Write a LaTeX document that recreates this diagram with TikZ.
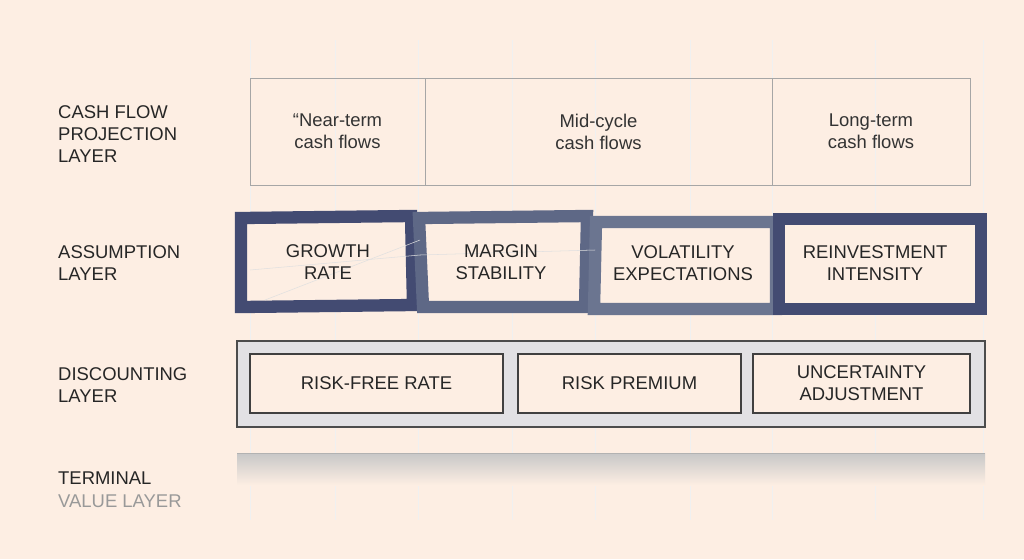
\documentclass[tikz,border=0pt]{standalone}
\usepackage{fontspec}
\setmainfont{Liberation Sans}
\usepackage{xcolor}
\definecolor{paper}{HTML}{FDEEE3}
\definecolor{frameA}{HTML}{434B72}
\definecolor{frameB}{HTML}{5E6886}
\definecolor{frameC}{HTML}{6B7590}
\definecolor{disc}{HTML}{E2E1E4}
\tikzset{
  lbl/.style={anchor=west,align=left,font=\fontsize{10.5}{12.6}\selectfont,text=black!85},
  cell/.style={draw=black!35,line width=0.5pt,align=center,font=\fontsize{10.5}{12.6}\selectfont,text=black!80},
  dcell/.style={draw=black!75,fill=paper,line width=0.7pt,align=center,font=\fontsize{10.5}{12.6}\selectfont,text=black!85},
  frame/.style={line width=7pt,fill=paper,align=center,font=\fontsize{10.5}{12.6}\selectfont,text=black!85}
}
\begin{document}
\begin{tikzpicture}[x=0.02cm,y=-0.02cm]
\useasboundingbox (0,0) rectangle (1024,559);
\fill [paper] (0,0) rectangle (1024,559);
% faint grid
\foreach \gx in {250,335,418,512,595,690,772,875,983}
  \draw [black!6,line width=0.4pt] (\gx,40) -- (\gx,520);

% Cash flow layer
\node [lbl] (lcf) at (52,134) {CASH FLOW\\PROJECTION\\LAYER};
\node [cell,minimum width=175*0.02cm,minimum height=107*0.02cm] (near) at (337.5,131.5) {“Near-term\\cash flows};
\node [cell,minimum width=347*0.02cm,minimum height=107*0.02cm] (mid) at (598.5,131.5) {Mid-cycle\\cash flows};
\node [cell,minimum width=198*0.02cm,minimum height=107*0.02cm] (long) at (871,131.5) {Long-term\\cash flows};

% Assumption layer
\node [lbl] (las) at (52,263) {ASSUMPTION\\LAYER};
\draw [frameA,line width=7pt,fill=paper] (241,218) -- (411,216) -- (413,305) -- (241,307) -- cycle;
\draw [frameB,line width=7pt,fill=paper] (419,218) -- (587,216) -- (585,307) -- (423,307) -- cycle;
\draw [frameC,line width=7pt,fill=paper] (596,222) -- (776,222) -- (776,309) -- (594,309) -- cycle;
\draw [frameA,line width=7pt,fill=paper] (779,219) -- (981,219) -- (981,309) -- (779,309) -- cycle;
\draw [black!12,line width=0.3pt] (250,270) -- (420,255) -- (595,250);
\draw [black!12,line width=0.3pt] (265,300) -- (420,240);
\node [font=\fontsize{10.5}{12.6}\selectfont,align=center,text=black!85] (grow) at (328,262) {GROWTH\\RATE};
\node [font=\fontsize{10.5}{12.6}\selectfont,align=center,text=black!85] (marg) at (501,262) {MARGIN\\STABILITY};
\node [font=\fontsize{10.5}{12.6}\selectfont,align=center,text=black!85] (vola) at (683,263) {VOLATILITY\\EXPECTATIONS};
\node [font=\fontsize{10.5}{12.6}\selectfont,align=center,text=black!85] (rein) at (875,263) {REINVESTMENT\\INTENSITY};

% Discounting layer
\node [lbl] (ldi) at (52,385) {DISCOUNTING\\LAYER};
\node [draw=black!70,fill=disc,line width=0.7pt,minimum width=748*0.02cm,minimum height=86*0.02cm] (dband) at (611,384) {};
\node [dcell,minimum width=253*0.02cm,minimum height=59*0.02cm] (rf) at (376.5,383.5) {RISK-FREE RATE};
\node [dcell,minimum width=223*0.02cm,minimum height=59*0.02cm] (rp) at (629.5,383.5) {RISK PREMIUM};
\node [dcell,minimum width=217*0.02cm,minimum height=59*0.02cm] (ua) at (861.5,383.5) {UNCERTAINTY\\ADJUSTMENT};

% Terminal value layer
\shade [top color=black!22,bottom color=paper] (237,453) rectangle (985,485);
\draw [black!30,line width=0.5pt] (237,453) -- (985,453);
\node [lbl] (lte) at (52,478) {TERMINAL};
\node [lbl,text=black!40] (lte2) at (52,501) {VALUE LAYER};
\end{tikzpicture}
\end{document}
